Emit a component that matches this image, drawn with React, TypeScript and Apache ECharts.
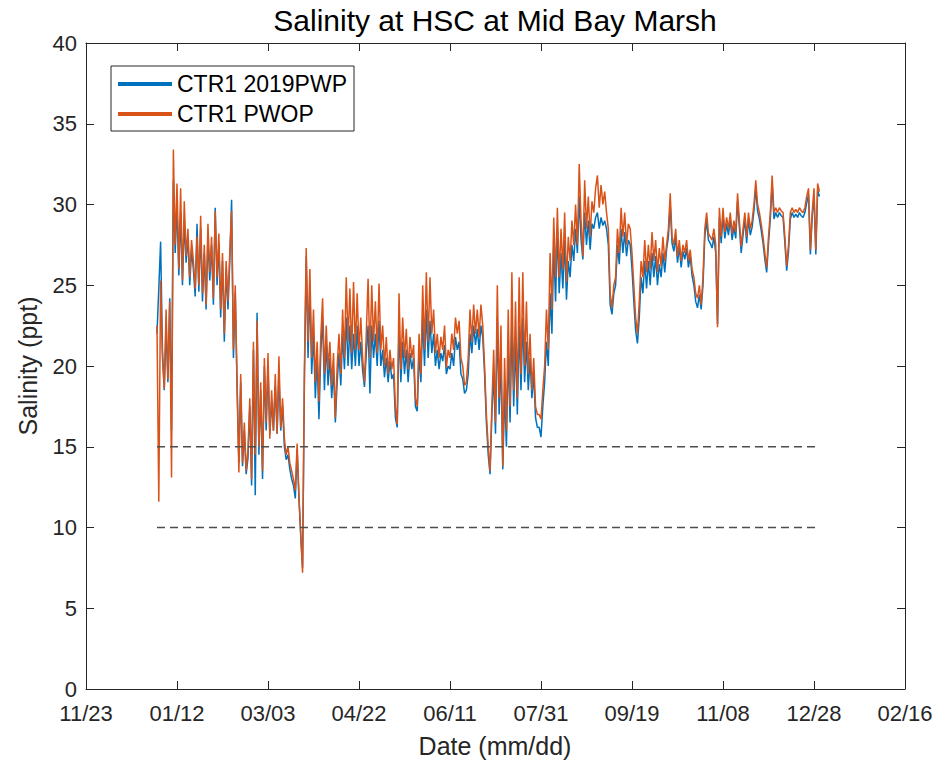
import React, { useEffect, useRef } from "react";
import * as echarts from "echarts";

const titleText = "Salinity at HSC at Mid Bay Marsh";
const xAxisName = "Date (mm/dd)";
const yAxisName = "Salinity (ppt)";
const tickLabels = ["11/23", "01/12", "03/03", "04/22", "06/11", "07/31", "09/19", "11/08", "12/28", "02/16"];
const seriesNames = ["CTR1 2019PWP", "CTR1 PWOP"];
// days counted from 11/23/2018; the records start on 01/01/2019 (day 39), one value per day
const firstDay = 39;
const thresholdLevels = [15, 10];
const thresholdSpan = [39, 403];

const pwpValues = [
  22.0, 24.8, 27.7, 21.0, 18.5, 22.5, 19.0, 24.2, 16.0, 31.5,
  27.0, 30.0, 25.6, 29.5, 25.0, 29.0, 26.4, 28.0, 25.0, 27.2,
  26.0, 24.3, 28.8, 24.6, 28.5, 24.0, 27.0, 23.5, 28.0, 25.3,
  27.5, 23.8, 29.8, 25.0, 27.6, 23.0, 26.5, 21.5, 26.0, 23.5,
  26.5, 30.3, 20.5, 24.5, 19.0, 14.0, 19.0, 13.8, 16.0, 13.3,
  14.3, 17.5, 12.6, 21.0, 12.0, 23.3, 14.5, 18.5, 13.0, 20.0,
  16.0, 20.0, 15.8, 17.8, 16.0, 18.8, 15.8, 19.5, 16.0, 17.5,
  15.0, 14.2, 14.5, 13.6, 13.0, 12.6, 11.8, 14.8, 11.8, 9.5,
  7.5, 19.0, 26.8, 20.5, 25.0, 19.5, 22.0, 18.0, 20.5, 16.7,
  20.8, 23.0, 18.5, 21.5, 18.8, 20.5, 18.0, 19.8, 16.5, 19.0,
  20.8, 18.8, 22.0, 19.8, 23.0, 20.0, 22.5, 19.8, 22.0, 20.0,
  22.5, 20.0, 21.5, 19.7, 18.7, 20.8, 22.5, 18.3, 22.5, 20.5,
  22.0, 20.0, 22.8, 20.0, 21.0, 19.3, 20.5, 19.0, 20.3, 19.2,
  19.5, 16.8, 16.2, 22.5, 19.0, 21.5, 19.5, 21.0, 19.0, 20.8,
  19.8, 20.5, 17.5, 17.2, 20.8, 19.0, 23.0, 20.0, 23.5, 20.5,
  22.8, 20.8, 22.0, 20.0, 21.0, 19.8, 20.8, 20.3, 21.3, 19.5,
  20.0, 19.8, 20.8, 20.0, 21.8, 21.0, 21.5, 19.5, 19.2, 18.3,
  18.5, 19.5, 22.0, 20.8, 22.5, 21.3, 22.3, 21.0, 22.5, 21.8,
  19.5, 16.5, 14.5, 13.3, 17.0, 19.5, 15.8, 23.0, 17.0, 20.5,
  13.6, 18.5, 15.0, 21.0, 16.5, 22.5, 17.5, 21.5, 17.0, 22.5,
  18.5, 23.0, 19.0, 21.5, 18.5, 20.5, 18.0, 19.5, 16.8, 16.2,
  16.2, 15.6, 17.5, 19.0, 21.5, 20.0, 24.5, 22.0, 27.5, 24.0,
  28.5, 24.5, 27.0, 24.8, 27.8, 24.1, 26.5, 25.5, 27.5, 26.5,
  28.5, 27.0, 30.5, 27.8, 26.6, 29.5, 27.5, 29.0, 27.2, 28.8,
  28.5, 29.2, 29.5, 28.5, 29.2, 28.7, 29.0, 28.5, 27.5, 23.8,
  23.2, 24.5, 25.0, 27.5, 26.3, 28.5, 27.0, 28.3, 26.8, 27.8,
  27.5, 26.0, 24.0, 22.2, 21.4, 23.0, 25.5, 24.5, 26.5, 24.8,
  26.5, 25.0, 27.0, 25.5, 26.8, 25.0, 26.3, 25.5, 27.0, 25.8,
  27.2, 28.0, 30.0, 27.6, 27.1, 28.0, 26.4, 27.4, 26.1, 27.1,
  26.6, 27.3, 26.1, 26.8, 25.6, 25.0, 24.0, 23.6, 24.4, 23.5,
  25.0, 28.0, 29.0, 27.8, 27.6, 27.3, 28.0, 27.0, 22.6, 29.2,
  27.6, 29.3, 27.9, 28.8, 28.1, 29.1, 27.8, 28.6, 27.9, 30.2,
  28.6, 27.0, 28.1, 29.1, 27.6, 29.1, 28.1, 28.6, 29.6, 31.0,
  29.6, 29.1, 28.4, 27.6, 26.6, 25.8, 27.6, 29.1, 31.3, 29.1,
  29.5, 29.2, 29.5, 29.3, 29.2, 27.6, 25.9, 27.1, 29.1, 29.5,
  29.2, 29.4, 29.2, 29.5, 29.3, 29.2, 29.5, 30.1, 30.6, 26.9,
  29.2, 30.6, 26.9, 30.9, 30.5,
];

const pwopValues = [
  22.5, 11.6, 25.3, 20.5, 18.6, 23.5, 19.2, 24.0, 13.1, 33.4,
  27.5, 31.3, 26.0, 31.0, 25.3, 30.2, 26.8, 28.5, 25.5, 27.8,
  26.5, 24.8, 28.0, 25.0, 29.3, 24.5, 27.5, 23.8, 28.8, 25.8,
  28.0, 24.2, 29.6, 25.5, 28.2, 23.5, 27.0, 22.0, 26.5, 24.0,
  27.0, 29.6, 21.0, 25.0, 18.7, 13.4, 19.5, 14.0, 16.5, 13.5,
  14.8, 18.0, 13.0, 21.5, 14.5, 22.8, 15.0, 19.0, 13.5, 20.5,
  16.5, 20.8, 15.5, 18.5, 16.0, 19.5, 15.8, 20.6, 16.2, 18.0,
  15.5, 14.5, 15.0, 14.0, 13.5, 13.0, 12.3, 15.2, 12.0, 9.5,
  7.2, 19.8, 27.3, 21.5, 26.0, 20.5, 23.5, 19.0, 21.5, 17.8,
  21.8, 24.2, 19.5, 22.5, 19.8, 21.5, 18.8, 20.8, 16.8, 20.0,
  22.0, 19.5, 23.5, 20.5, 25.5, 21.5, 24.8, 20.8, 25.2, 21.0,
  24.5, 21.0, 23.0, 20.5, 19.0, 22.0, 25.4, 20.5, 25.0, 21.5,
  24.0, 20.8, 25.1, 21.0, 22.5, 20.0, 21.8, 19.5, 21.0, 19.8,
  20.5, 17.5, 16.4, 24.5, 19.8, 23.0, 20.5, 22.3, 19.8, 21.8,
  20.5, 21.3, 18.0, 17.5, 22.0, 19.5, 25.0, 21.0, 25.8, 21.5,
  25.5, 22.0, 23.5, 20.8, 22.0, 20.5, 21.8, 21.0, 22.5, 19.9,
  21.0, 20.5, 22.0, 21.0, 23.0, 22.0, 22.8, 20.5, 20.0, 18.8,
  19.0, 20.5, 23.5, 21.5, 23.8, 22.0, 23.5, 21.8, 23.8, 22.5,
  20.0, 17.0, 15.0, 13.5, 17.5, 21.0, 16.5, 25.0, 18.0, 22.5,
  13.8, 20.5, 16.0, 23.5, 17.5, 25.8, 18.5, 24.0, 18.0, 25.5,
  19.5, 25.8, 20.0, 24.0, 19.5, 22.0, 18.5, 20.5, 17.5, 17.0,
  17.0, 16.7, 18.5, 20.0, 23.5, 21.0, 27.0, 23.5, 29.2, 25.5,
  29.8, 25.5, 28.5, 26.0, 29.5, 25.2, 28.0, 26.5, 29.0, 27.5,
  30.0, 27.5, 32.5, 29.0, 26.8, 31.5, 28.5, 30.5, 28.0, 30.2,
  29.5, 31.0, 31.8, 29.8, 31.2, 30.0, 30.8, 29.5, 28.5, 24.5,
  23.6, 25.0, 25.5, 28.5, 27.0, 29.8, 28.0, 29.5, 27.5, 28.8,
  28.5, 27.0, 25.0, 23.0, 22.0, 24.0, 26.5, 25.5, 27.8, 25.8,
  27.5, 26.0, 28.3, 26.5, 27.8, 25.8, 27.3, 26.2, 28.0, 26.5,
  27.5, 28.5, 30.7, 28.0, 27.5, 28.5, 26.8, 27.8, 26.5, 27.5,
  27.0, 27.8, 26.5, 27.2, 26.0, 25.5, 24.5, 24.2, 25.0, 23.8,
  25.5, 28.5, 29.5, 28.2, 28.0, 27.8, 28.5, 27.5, 22.4, 29.8,
  28.0, 29.8, 28.3, 29.2, 28.5, 29.5, 28.2, 29.0, 28.3, 30.7,
  29.0, 27.4, 28.5, 29.5, 28.0, 29.5, 28.5, 29.0, 30.0, 31.5,
  30.0, 29.5, 28.8, 28.0, 27.0, 26.1, 28.0, 29.5, 31.8, 29.5,
  29.8, 29.5, 29.8, 29.6, 29.5, 28.0, 26.2, 27.5, 29.5, 29.8,
  29.5, 29.7, 29.5, 29.8, 29.6, 29.5, 29.8, 30.5, 31.0, 27.2,
  29.5, 31.0, 27.2, 31.3, 30.8,
];

const AXIS_COLOR = "#262626";
const FONT = "'Liberation Sans', Arial, Helvetica, sans-serif";

export default function App() {
  const ref = useRef<HTMLDivElement>(null);

  useEffect(() => {
    if (!ref.current) return;
    const chart = echarts.init(ref.current, undefined, { renderer: "svg" });

    const toPairs = (vals: number[]) => vals.map((v, i) => [firstDay + i, v]);

    const xBase = {
      type: "value" as const,
      min: 0,
      max: 450,
      interval: 50,
      splitLine: { show: false },
      axisLine: { show: true, onZero: false, lineStyle: { color: AXIS_COLOR, width: 1 } },
      axisTick: { show: true, inside: true, length: 8, lineStyle: { color: AXIS_COLOR, width: 1 } },
    };
    const yBase = {
      type: "value" as const,
      min: 0,
      max: 40,
      interval: 5,
      splitLine: { show: false },
      axisLine: { show: true, onZero: false, lineStyle: { color: AXIS_COLOR, width: 1 } },
      axisTick: { show: true, inside: true, length: 8, lineStyle: { color: AXIS_COLOR, width: 1 } },
    };

    const option: any = {
      animation: false,
      backgroundColor: "#ffffff",
      textStyle: { fontFamily: FONT },
      grid: { left: 86, right: 35, top: 43, bottom: 79, containLabel: false },
      graphic: [
        {
          type: "text",
          x: 495,
          y: 20,
          style: {
            text: titleText,
            fontSize: 30,
            fontFamily: FONT,
            fill: "#000000",
            textAlign: "center",
            textVerticalAlign: "middle",
          },
        },
        {
          type: "text",
          x: 495,
          y: 746,
          style: {
            text: xAxisName,
            fontSize: 25,
            fontFamily: FONT,
            fill: AXIS_COLOR,
            textAlign: "center",
            textVerticalAlign: "middle",
          },
        },
        {
          type: "text",
          x: 28,
          y: 366,
          rotation: Math.PI / 2,
          style: {
            text: yAxisName,
            fontSize: 25,
            fontFamily: FONT,
            fill: AXIS_COLOR,
            textAlign: "center",
            textVerticalAlign: "middle",
          },
        },
      ],
      legend: {
        data: seriesNames,
        orient: "vertical",
        left: 111,
        top: 66,
        icon: "rect",
        itemWidth: 54,
        itemHeight: 4,
        itemGap: 6,
        padding: [6, 7, 5, 7],
        backgroundColor: "#ffffff",
        borderColor: AXIS_COLOR,
        borderWidth: 1,
        textStyle: { fontSize: 23, color: "#000000", fontFamily: FONT, lineHeight: 24 },
      },
      xAxis: [
        {
          ...xBase,
          position: "bottom",
          axisLabel: {
            show: true,
            formatter: (v: number) => tickLabels[Math.round(v / 50)] ?? "",
            fontSize: 22,
            lineHeight: 22,
            color: AXIS_COLOR,
            fontFamily: FONT,
            margin: 13,
          },
        },
        { ...xBase, position: "top", axisLabel: { show: false } },
      ],
      yAxis: [
        {
          ...yBase,
          position: "left",
          axisLabel: { show: true, fontSize: 22, lineHeight: 20, color: AXIS_COLOR, fontFamily: FONT, margin: 9 },
        },
        { ...yBase, position: "right", axisLabel: { show: false } },
      ],
      series: [
        {
          name: seriesNames[0],
          type: "line",
          data: toPairs(pwpValues),
          showSymbol: false,
          symbol: "none",
          color: "#0072BD",
          lineStyle: { color: "#0072BD", width: 1.5 },
          z: 2,
        },
        {
          name: seriesNames[1],
          type: "line",
          data: toPairs(pwopValues),
          showSymbol: false,
          symbol: "none",
          color: "#D95319",
          lineStyle: { color: "#D95319", width: 1.5 },
          z: 3,
        },
        ...thresholdLevels.map((lvl, i) => ({
          name: "threshold" + i,
          type: "line",
          data: thresholdSpan.map((d) => [d, lvl]),
          showSymbol: false,
          symbol: "none",
          silent: true,
          lineStyle: { color: "#4d4d4d", width: 1.5, type: [8, 5] },
          z: 4,
        })),
      ],
    };

    chart.setOption(option);
    return () => chart.dispose();
  }, []);

  return (
    <div
      ref={ref}
      style={{ position: "fixed", left: 0, top: 0, width: 940, height: 768, background: "#fff" }}
    />
  );
}
